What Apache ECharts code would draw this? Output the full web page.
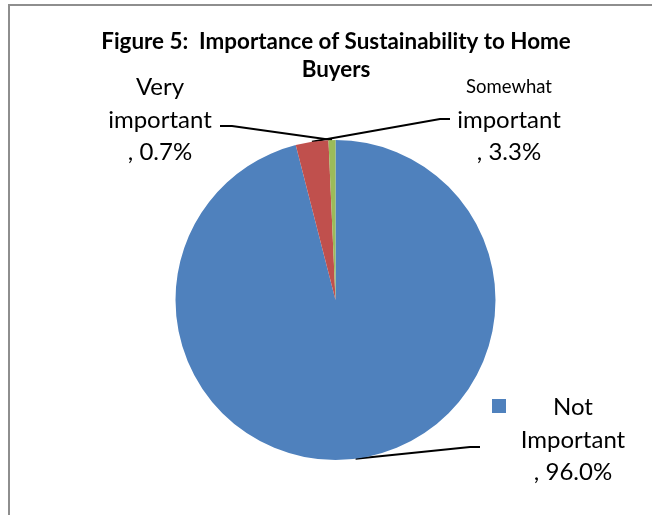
<!DOCTYPE html>
<html><head><meta charset="utf-8">
<script src="https://cdn.jsdelivr.net/npm/echarts@6/dist/echarts.min.js"></script>
<style>
html,body{margin:0;padding:0;background:#fff;}
#frame{position:absolute;left:8px;top:4px;width:800px;height:700px;border-left:2px solid #8e8e8e;border-top:2px solid #8e8e8e;}
#chart{position:absolute;left:0;top:0;width:652px;height:515px;}
</style></head>
<body>
<div id="frame"></div>
<div id="chart"></div>
<script>
const titleText = 'Figure 5:  Importance of Sustainability to Home\nBuyers';
const categories = ['Not Important', 'Somewhat important', 'Very important'];
const values = [96.0, 3.3, 0.7];
const colors = ['#4F81BD', '#C0504D', '#9BBB59'];

const FONT = 'Lato, "Liberation Sans", sans-serif';
const labelPos = [
  {x: 573, y: 440, bend: [470, 447], end: [480, 447]},
  {x: 509, y: 120, bend: [440, 119], end: [450, 119]},
  {x: 160, y: 120, bend: [232, 126], end: [220, 126]}
];

function fmt(p) {
  const v = p.value.toFixed(1) + '%';
  if (p.dataIndex === 0) return '{b|Not}\n{b|Important}\n{b|, ' + v + '}';
  if (p.dataIndex === 1) return '{s|Somewhat}\n{b|important}\n{b|, ' + v + '}';
  return '{b|Very}\n{b|important}\n{b|, ' + v + '}';
}

const chart = echarts.init(document.getElementById('chart'), null, {renderer: 'canvas'});
chart.setOption({
  backgroundColor: 'transparent',
  animation: false,
  title: {
    text: titleText,
    left: 331,
    top: 23,
    textAlign: 'center',
    textStyle: {fontFamily: FONT, fontWeight: 'bold', fontSize: 22.4, color: '#000', lineHeight: 28}
  },
  legend: {
    data: ['Not Important'],
    left: 487, top: 394,
    icon: 'rect', itemWidth: 14, itemHeight: 14,
    formatter: function () { return ''; },
    itemGap: 0
  },
  series: [{
    type: 'pie',
    center: [335.5, 300],
    radius: 160,
    startAngle: 90,
    clockwise: true,
    avoidLabelOverlap: false,
    data: categories.map((c, i) => ({name: c, value: values[i], itemStyle: {color: colors[i]}})),
    label: {
      show: true,
      formatter: fmt,
      color: '#000',
      rich: {
        b: {fontFamily: FONT, fontSize: 24, lineHeight: 32.5, color: '#000', align: 'center'},
        s: {fontFamily: FONT, fontSize: 18.5, lineHeight: 32.5, color: '#000', align: 'center'}
      }
    },
    labelLine: {show: true, lineStyle: {color: '#000', width: 2}},
    labelLayout: function (params) {
      const lp = labelPos[params.dataIndex];
      const anchor = params.labelLinePoints ? params.labelLinePoints[0] : lp.bend;
      return {
        x: lp.x, y: lp.y, align: 'center', verticalAlign: 'middle',
        labelLinePoints: [anchor, lp.bend, lp.end]
      };
    },
    emphasis: {disabled: true}
  }]
});
</script>
</body></html>
